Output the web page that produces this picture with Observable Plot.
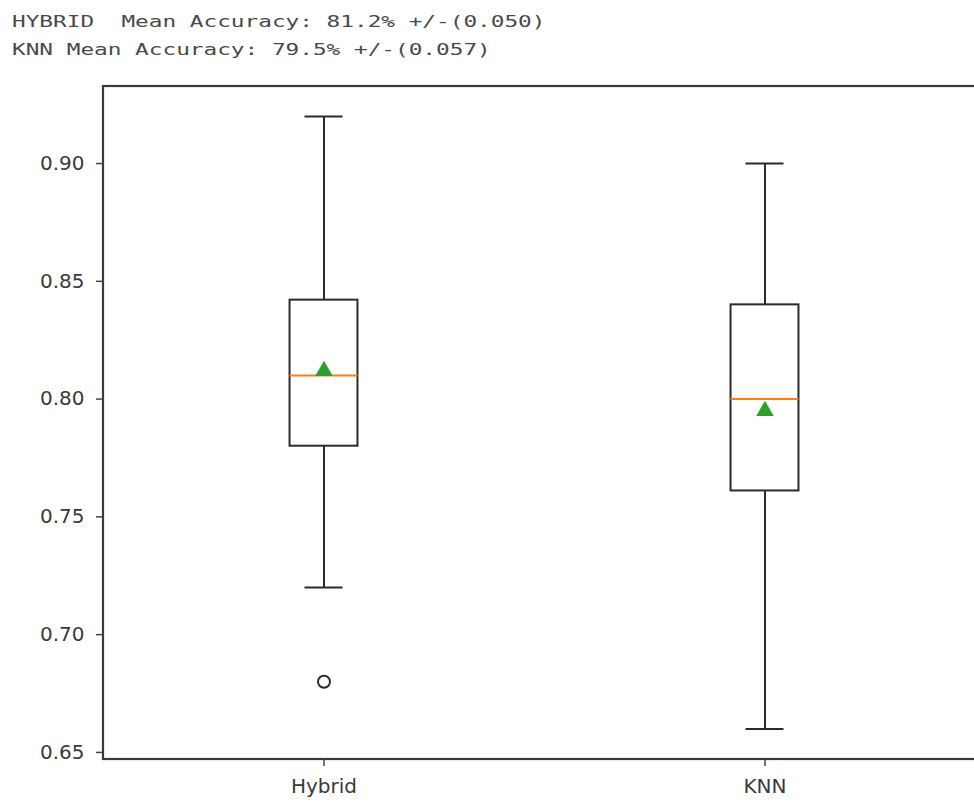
<!DOCTYPE html>
<html>
<head>
<meta charset="utf-8">
<script src="https://cdn.jsdelivr.net/npm/d3@7"></script>
<script src="https://cdn.jsdelivr.net/npm/@observablehq/plot@0.6"></script>
<style>
  html, body { margin: 0; padding: 0; background: #fff; overflow: hidden; }
  #header { position: absolute; left: 12px; top: 8px; font-family: "DejaVu Sans Mono", monospace; font-size: 16px; color: #4a4a4a; line-height: 28px; white-space: pre; transform: scaleX(1.42); transform-origin: left top; }
  #chart { position: absolute; left: 0; top: 70px; }
</style>
</head>
<body>
<div id="header"></div>
<div id="chart"></div>
<script>
// Header lines
const headerLines = [
  "HYBRID  Mean Accuracy: 81.2% +/-(0.050)",
  "KNN Mean Accuracy: 79.5% +/-(0.057)"
];

// Box plot statistics
const categories = ["Hybrid", "KNN"];
const positions  = [1, 2];
const whiskerLow = [0.72, 0.66];
const q1         = [0.780, 0.761];
const median     = [0.810, 0.800];
const q3         = [0.842, 0.840];
const whiskerHigh= [0.92, 0.90];
const means      = [0.812, 0.795];
const outlierCat = [1];
const outlierVal = [0.68];

const yTicks = [0.65, 0.70, 0.75, 0.80, 0.85, 0.90];
const yDomain = [0.6470, 0.9327];
const xDomain = [0.5, 2.5];

document.getElementById("header").textContent = headerLines.join("\n");

const boxes = categories.map((c, i) => ({
  cat: c, pos: positions[i], lo: whiskerLow[i], q1: q1[i], med: median[i],
  q3: q3[i], hi: whiskerHigh[i], mean: means[i]
}));
const outliers = outlierCat.map((p, i) => ({pos: p, v: outlierVal[i]}));
const frameData = [{x1: xDomain[0], x2: xDomain[1], y1: yDomain[0], y2: yDomain[1]}];

const halfBox = 0.077, halfCap = 0.043;
const ink = "#2b2b2b";

const chart = Plot.plot({
  width: 974,
  height: 733,
  marginLeft: 103,
  marginRight: 0,
  marginTop: 16,
  marginBottom: 44,
  style: {fontFamily: "DejaVu Sans, sans-serif", fontSize: "20px", color: "#333", background: "transparent"},
  x: {type: "linear", domain: xDomain, range: [103, 985], axis: null},
  y: {domain: yDomain, axis: null},
  marks: [
    // frame
    Plot.rect(frameData, {x1: "x1", x2: "x2", y1: "y1", y2: "y2", fill: "none", stroke: "#3a3a3a", strokeWidth: 2.2}),
    // y axis ticks + labels
    Plot.axisY({ticks: yTicks, tickFormat: d3.format(".2f"), tickSize: 7, tickPadding: 12, stroke: "#444", strokeWidth: 1.5, fill: "#3a3a3a", fontSize: 20}),
    // x axis
    Plot.axisX({ticks: positions, tickFormat: (d) => categories[positions.indexOf(d)], tickSize: 7, tickPadding: 12, stroke: "#444", strokeWidth: 1.5, fill: "#3a3a3a", fontSize: 20}),
    // whiskers
    Plot.ruleX(boxes, {x: "pos", y1: "q3", y2: "hi", stroke: ink, strokeWidth: 2}),
    Plot.ruleX(boxes, {x: "pos", y1: "lo", y2: "q1", stroke: ink, strokeWidth: 2}),
    // caps
    Plot.ruleY(boxes, {y: "hi", x1: d => d.pos - halfCap, x2: d => d.pos + halfCap, stroke: ink, strokeWidth: 2}),
    Plot.ruleY(boxes, {y: "lo", x1: d => d.pos - halfCap, x2: d => d.pos + halfCap, stroke: ink, strokeWidth: 2}),
    // boxes
    Plot.rect(boxes, {x1: d => d.pos - halfBox, x2: d => d.pos + halfBox, y1: "q1", y2: "q3", fill: "none", stroke: ink, strokeWidth: 2}),
    // medians
    Plot.ruleY(boxes, {y: "med", x1: d => d.pos - halfBox, x2: d => d.pos + halfBox, stroke: "#ff7f0e", strokeWidth: 2}),
    // means
    Plot.dot(boxes, {x: "pos", y: "mean", symbol: "triangle", r: 6.5, fill: "#2ca02c", stroke: "none"}),
    // outliers
    Plot.dot(outliers, {x: "pos", y: "v", r: 6, fill: "none", stroke: ink, strokeWidth: 2})
  ]
});
document.getElementById("chart").appendChild(chart);
</script>
</body>
</html>
